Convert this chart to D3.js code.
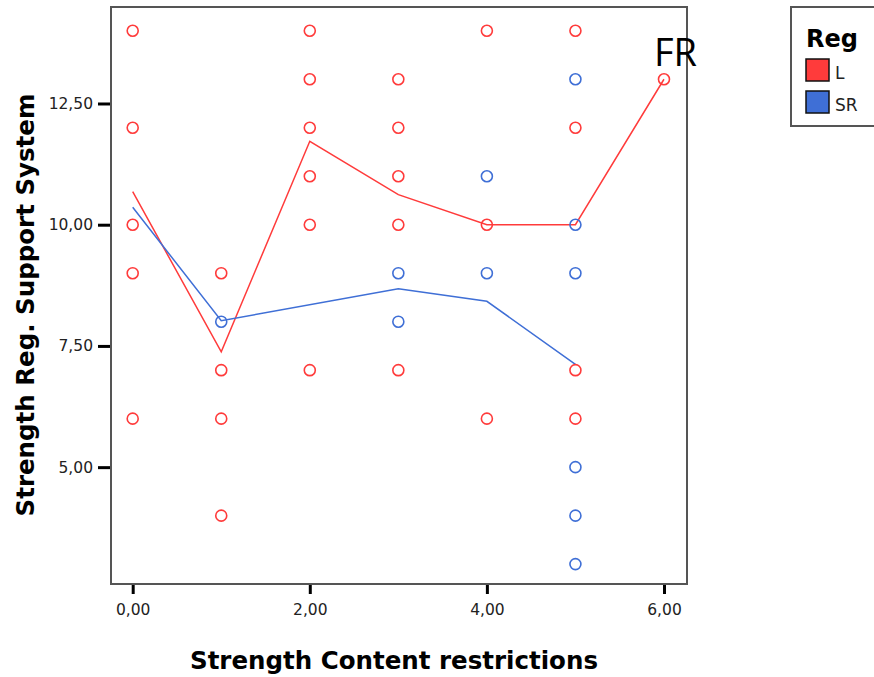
<!DOCTYPE html>
<html>
<head>
<meta charset="utf-8">
<script src="https://cdn.jsdelivr.net/npm/d3@7"></script>
<style>
  body { margin: 0; background: #fff; }
  svg { display: block; }
</style>
</head>
<body>
<svg id="chart" width="874" height="677"></svg>
<script>
// observed points (x = Strength Content restrictions, y = Strength Reg. Support System)
var lX = [0, 0, 0, 0, 0, 1, 1, 1, 1, 2, 2, 2, 2, 2, 2, 3, 3, 3, 3, 3, 4, 4, 4, 5, 5, 5, 5, 6];
var lY = [14, 12, 10, 9, 6, 9, 7, 6, 4, 14, 13, 12, 11, 10, 7, 13, 12, 11, 10, 7, 14, 10, 6, 14, 12, 7, 6, 13];
var srX = [1, 3, 3, 4, 4, 5, 5, 5, 5, 5, 5];
var srY = [8, 9, 8, 11, 9, 13, 10, 9, 5, 4, 3];

// group means (fit lines)
var lMeanX = [0, 1, 2, 3, 4, 5, 6];
var lMeanY = [10.68, 7.38, 11.72, 10.62, 10.0, 10.0, 13.0];
var srMeanX = [0, 1, 3, 4, 5];
var srMeanY = [10.36, 8.02, 8.68, 8.42, 7.12];

var xTicks = [0, 2, 4, 6];
var yTicks = [5, 7.5, 10, 12.5];

var red = "#ff3b3b", blue = "#3f6fd6";

var svg = d3.select("#chart");
var plotLeft = 111, plotRight = 687, plotTop = 7, plotBottom = 584;

var x = d3.scaleLinear().domain([-0.245, 6.26]).range([plotLeft, plotRight]);
var y = d3.scaleLinear().domain([2.59, 14.49]).range([plotBottom, plotTop]);

var fmt = function(d) { return d3.format(".2f")(d).replace(".", ","); };

// x axis
var xAxis = svg.append("g")
    .attr("transform", "translate(0," + plotBottom + ")")
    .call(d3.axisBottom(x).tickValues(xTicks).tickFormat(fmt).tickSize(10).tickPadding(10));
// y axis
var yAxis = svg.append("g")
    .attr("transform", "translate(" + plotLeft + ",0)")
    .call(d3.axisLeft(y).tickValues(yTicks).tickFormat(fmt).tickSize(13).tickPadding(5));

[xAxis, yAxis].forEach(function(g) {
    g.select(".domain").remove();
    g.selectAll(".tick line").attr("stroke", "#000").attr("stroke-width", 3);
    g.selectAll(".tick text")
        .attr("fill", "#222")
        .style("font-family", "'DejaVu Sans', sans-serif")
        .style("font-size", "15.5px");
});

// frame
svg.append("rect")
    .attr("x", plotLeft).attr("y", plotTop)
    .attr("width", plotRight - plotLeft).attr("height", plotBottom - plotTop)
    .attr("fill", "none").attr("stroke", "#555").attr("stroke-width", 2);

var line = d3.line()
    .x(function(d) { return x(d[0]); })
    .y(function(d) { return y(d[1]); });

svg.append("path")
    .datum(d3.zip(lMeanX, lMeanY))
    .attr("d", line).attr("fill", "none")
    .attr("stroke", red).attr("stroke-width", 1.5);
svg.append("path")
    .datum(d3.zip(srMeanX, srMeanY))
    .attr("d", line).attr("fill", "none")
    .attr("stroke", blue).attr("stroke-width", 1.5);

function dots(xs, ys, color) {
    svg.append("g").selectAll("circle")
        .data(d3.zip(xs, ys))
        .enter().append("circle")
        .attr("cx", function(d) { return x(d[0]); })
        .attr("cy", function(d) { return y(d[1]); })
        .attr("r", 5.5)
        .attr("fill", "none")
        .attr("stroke", color)
        .attr("stroke-width", 1.6);
}
dots(lX, lY, red);
dots(srX, srY, blue);

// axis titles
svg.append("text")
    .attr("x", 394).attr("y", 669)
    .attr("text-anchor", "middle")
    .style("font-family", "'DejaVu Sans', sans-serif")
    .style("font-size", "24.5px").style("font-weight", "bold")
    .text("Strength Content restrictions");
svg.append("text")
    .attr("transform", "translate(34,305) rotate(-90)")
    .attr("text-anchor", "middle")
    .style("font-family", "'DejaVu Sans', sans-serif")
    .style("font-size", "24.5px").style("font-weight", "bold")
    .text("Strength Reg. Support System");

// FR annotation
svg.append("text")
    .attr("x", 654).attr("y", 66)
    .style("font-family", "'Open Sans', sans-serif")
    .style("font-size", "38px")
    .attr("fill", "#000")
    .text("FR");

// legend
var lg = svg.append("g");
lg.append("rect")
    .attr("x", 791).attr("y", 7).attr("width", 100).attr("height", 119)
    .attr("fill", "#fff").attr("stroke", "#555").attr("stroke-width", 2);
lg.append("text")
    .attr("x", 806).attr("y", 47)
    .style("font-family", "'DejaVu Sans', sans-serif")
    .style("font-size", "24px").style("font-weight", "bold")
    .text("Reg");
var legendItems = [["L", red], ["SR", blue]];
legendItems.forEach(function(d, i) {
    lg.append("rect")
        .attr("x", 806).attr("y", 59 + i * 32)
        .attr("width", 23).attr("height", 22)
        .attr("fill", d[1]).attr("stroke", "#111").attr("stroke-width", 1.5);
    lg.append("text")
        .attr("x", 835).attr("y", 79 + i * 32)
        .style("font-family", "'DejaVu Sans', sans-serif")
        .style("font-size", "17px")
        .attr("fill", "#222")
        .text(d[0]);
});
</script>
</body>
</html>
